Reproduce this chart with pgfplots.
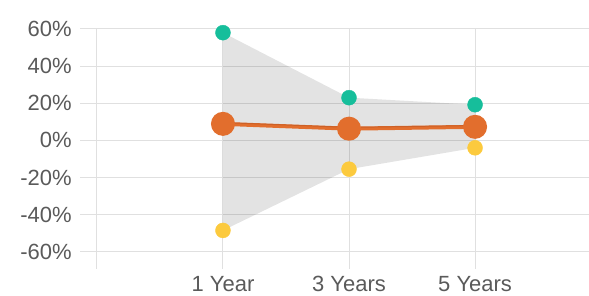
\documentclass[border=0pt]{standalone}
\usepackage{pgfplots}
\pgfplotsset{compat=1.18}
\usepackage{fontspec}
\setmainfont{Liberation Sans}
\definecolor{teal1}{RGB}{22,190,155}
\definecolor{orng}{RGB}{226,110,45}
\definecolor{orngd}{RGB}{190,88,35}
\definecolor{yell}{RGB}{252,202,62}
\definecolor{gridc}{RGB}{224,224,224}
\definecolor{txt}{RGB}{90,90,90}
\begin{document}
\begin{tikzpicture}
\begin{axis}[
  at={(97pt,44pt)}, anchor=south west,
  scale only axis, width=492pt, height=223pt,
  xmin=0, xmax=3.9, ymin=-60, ymax=60,
  axis line style={draw=none},
  xtick={0,1,2,3}, xticklabels={,1 Year,3 Years,5 Years},
  ytick={-60,-40,-20,0,20,40,60},
  yticklabels={-60\%,-40\%,-20\%,0\%,20\%,40\%,60\%},
  grid=major, grid style={gridc, line width=1pt},
  tick align=outside, major tick length=17pt,
  tick style={gridc, line width=1pt},
  xtick pos=bottom, ytick pos=left,
  ticklabel style={font=\fontsize{22}{26}\selectfont, text=txt},
  yticklabel style={inner sep=0pt, xshift=-8pt},
  xticklabel style={inner sep=0pt, yshift=-7pt},
  clip=false,
]
\addplot[only marks, mark=*, mark size=7.5pt, color=teal1] coordinates {(1,58) (2,23) (3,19.2)};
\addplot[only marks, mark=*, mark size=7.5pt, color=yell] coordinates {(1,-48.5) (2,-15.5) (3,-4)};
\addplot[draw=none, fill=black, fill opacity=0.11] coordinates {(1,58) (2,23) (3,19.2) (3,-4) (2,-15.5) (1,-48.5)} -- cycle;
\addplot[color=orng, line width=4pt, mark=*, mark size=10pt, mark options={fill=orng, draw=none}] coordinates {(1,8.9) (2,6.3) (3,7.3)};
\addplot[color=orngd, line width=1pt, opacity=0.6, mark=none] coordinates {(1,9.6) (2,7.0) (3,8.0)};
\end{axis}
\path[use as bounding box] (0,0) rectangle (589pt,296pt);
\end{tikzpicture}
\end{document}
